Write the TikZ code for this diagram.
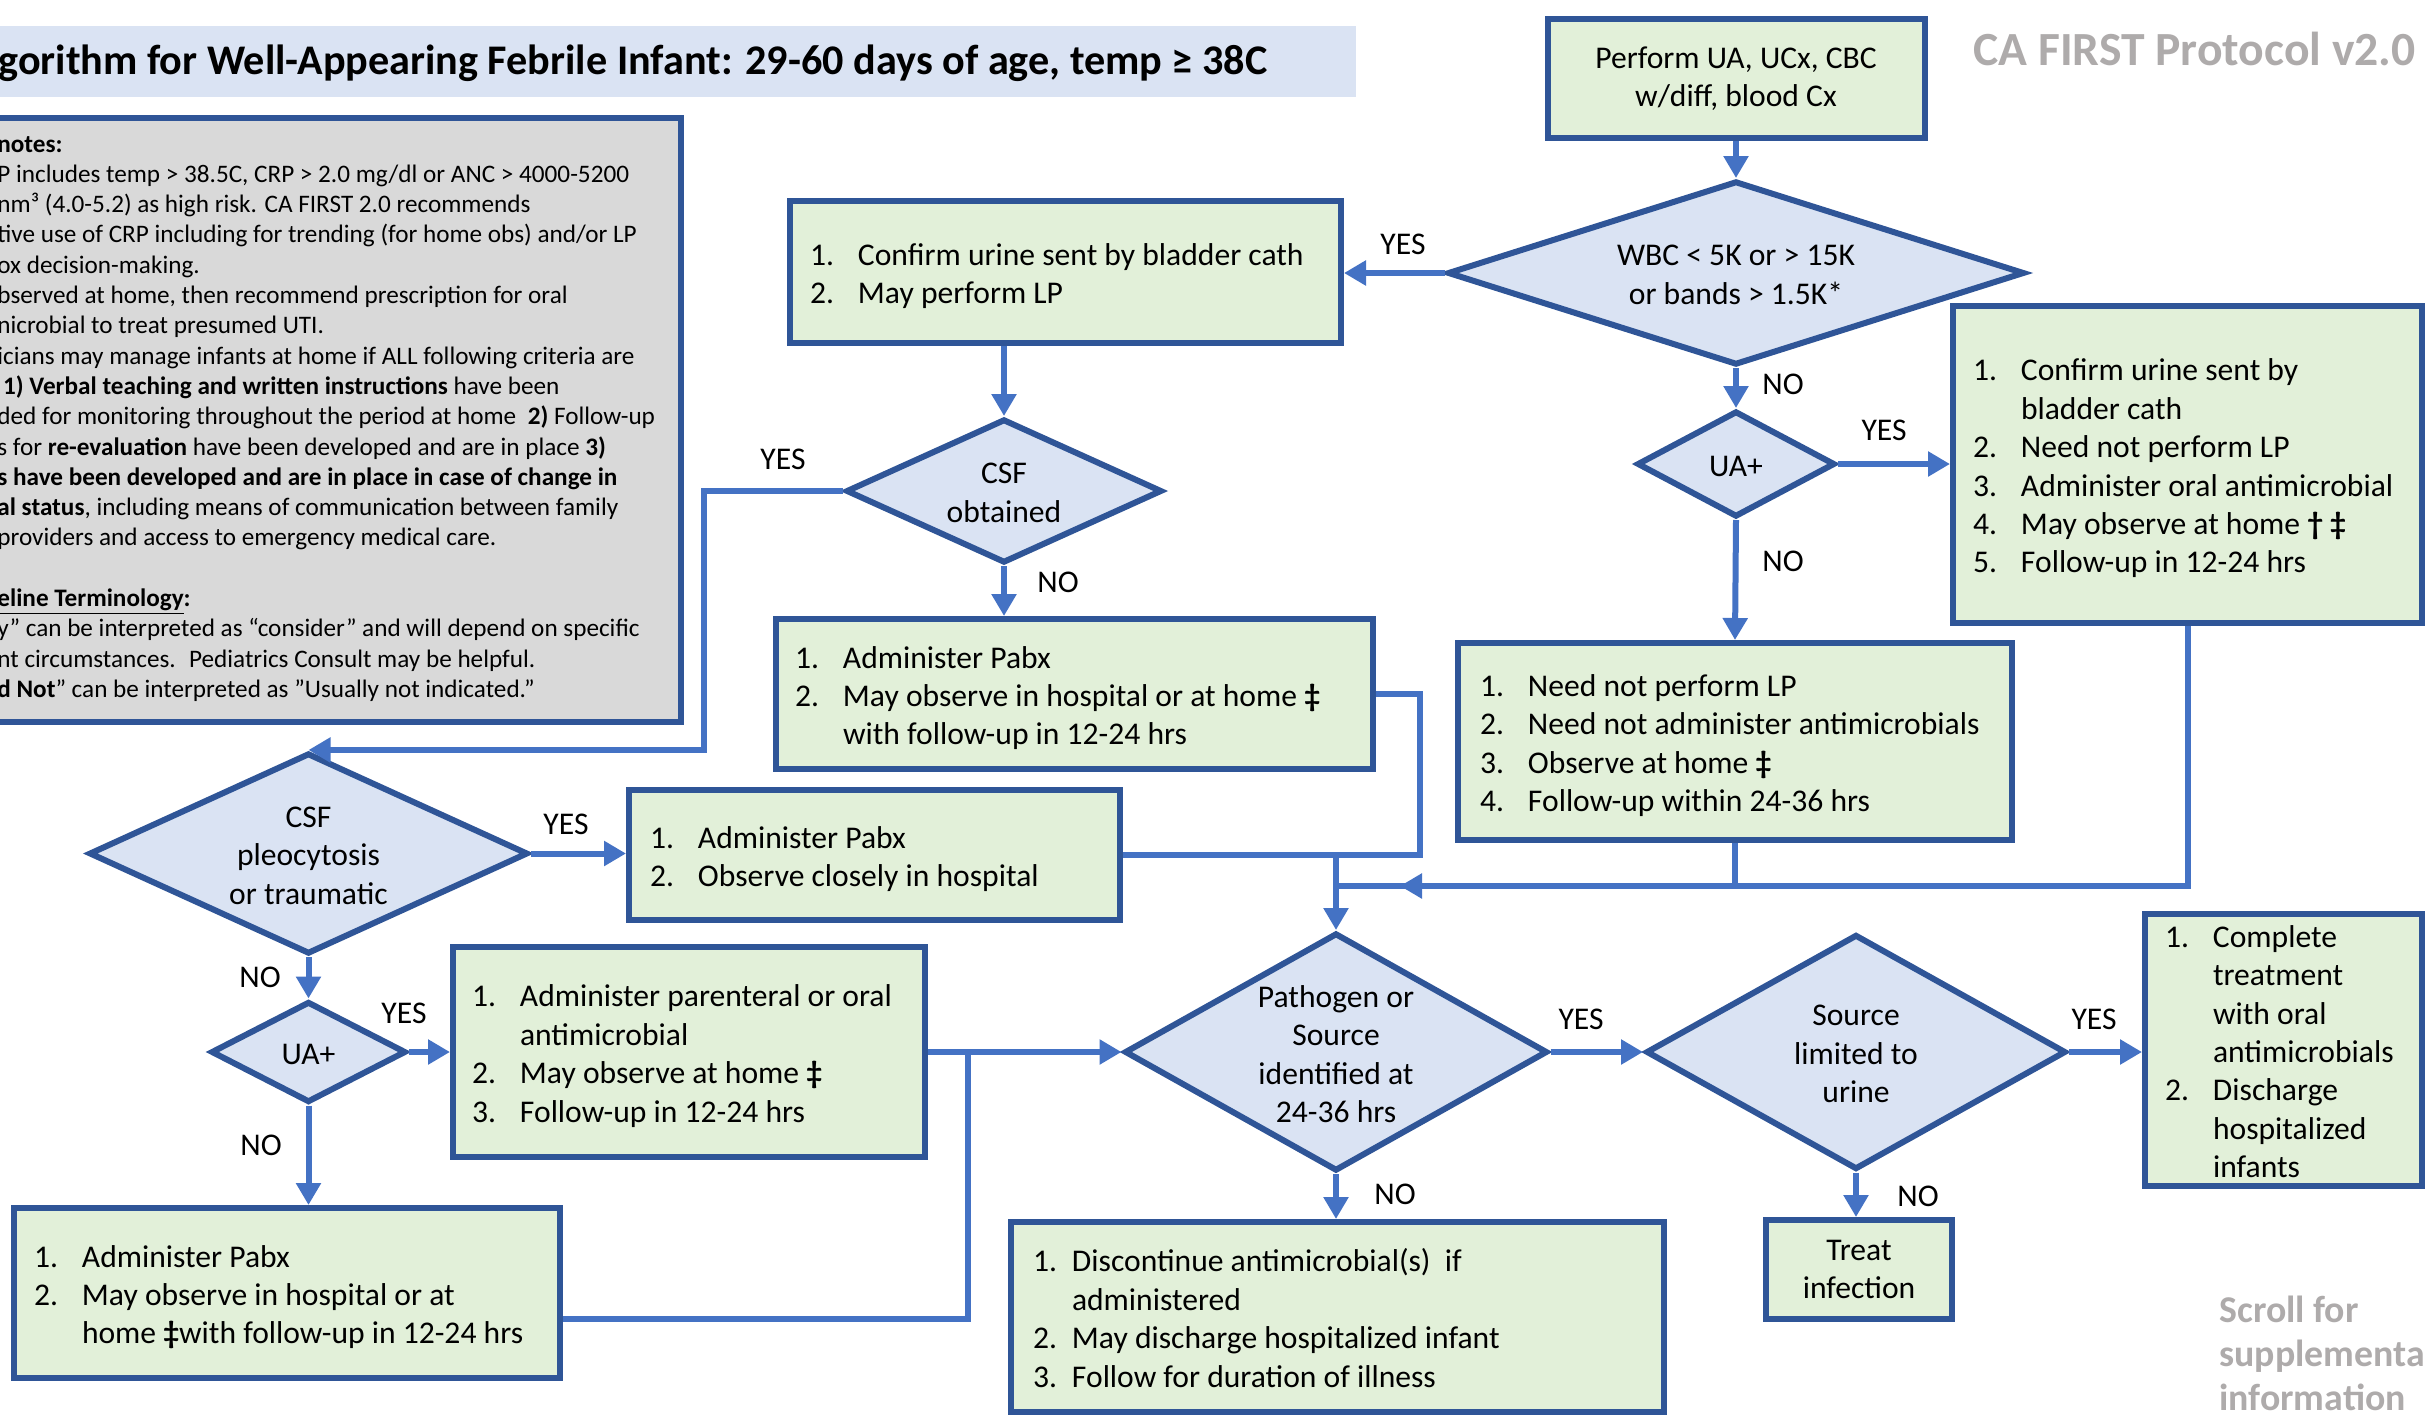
\documentclass[tikz,border=0pt]{standalone}
\usepackage{fontspec}
\setmainfont{Carlito}
\usetikzlibrary{shapes.geometric,arrows.meta}

\definecolor{boxfill}{HTML}{E2F0D9}
\definecolor{diafill}{HTML}{DAE3F3}
\definecolor{edge}{HTML}{2F5597}
\definecolor{linkblue}{HTML}{4472C4}
\definecolor{notefill}{HTML}{D9D9D9}
\definecolor{greytxt}{HTML}{AEABAB}

\newcommand\bodyfont{\fontsize{15.8pt}{19.2pt}\selectfont}
\newcommand\notefont{\fontsize{12.6pt}{15.15pt}\selectfont}
% numbered list: number column, then text column (set slightly low in its box)
\newcommand\steps[2][24pt]{\raisebox{-2.4pt}[\height][\depth]{\begin{tabular}{@{}p{#1}@{}l@{}}#2\end{tabular}}}

\tikzset{
  box/.style={rectangle, draw=edge, fill=boxfill, line width=3pt, inner sep=0pt, font=\bodyfont},
  dia/.style={diamond, draw=edge, fill=diafill, line width=3pt, inner sep=0pt},
  dtext/.style={font=\bodyfont, align=center, yshift=-1pt},
  conn/.style={draw=linkblue, line width=3pt},
  arr/.style={conn, -{Triangle[length=11pt,width=12pt]}},
  tag/.style={font=\bodyfont, inner sep=0pt},
}

\begin{document}
\begin{tikzpicture}[x=0.5pt, y=-0.5pt]
\useasboundingbox (0,0) rectangle (2425,1414);
\clip (0,0) rectangle (2425,1414);

% heading band and headings
\node[fill=diafill, inner sep=0pt, minimum width=678pt, minimum height=35.5pt] (band) at (678,61.5) {};
\node[anchor=west, inner sep=0pt, font=\fontsize{21.1pt}{25pt}\selectfont\bfseries] (title) at (-2,63)
  {gorithm for Well-Appearing Febrile Infant: 29-60 days of age, temp ≥ 38C};
\node[anchor=east, inner sep=0pt, text=greytxt, font=\fontsize{23.8pt}{28pt}\selectfont\bfseries] (brand) at (2416,49)
  {CA FIRST Protocol v2.0};
\node[anchor=west, align=left, inner sep=0pt, text=greytxt, font=\fontsize{18.9pt}{22pt}\selectfont\bfseries] (scroll) at (2219,1353)
  {Scroll for\\supplementa\\information};

% notes panel
\node[draw=edge, fill=notefill, line width=3pt, inner sep=0pt, minimum width=350.5pt, minimum height=302pt] (notes) at (330.5,420) {};
\node[anchor=base west, inner sep=0pt, font=\notefont] (notetext) at (-3,152) {%
\begin{tabular}[t]{@{}l@{}}
\textbf{notes:}\\
P includes temp > 38.5C, CRP > 2.0 mg/dl or ANC > 4000-5200\\
nm³ (4.0-5.2) as high risk. CA FIRST 2.0 recommends\\
tive use of CRP including for trending (for home obs) and/or LP\\
ox decision-making.\\
bserved at home, then recommend prescription for oral\\
nicrobial to treat presumed UTI.\\
icians may manage infants at home if ALL following criteria are\\
\ \textbf{1) Verbal teaching and written instructions} have been\\
ded for monitoring throughout the period at home \ \textbf{2)} Follow-up\\
s for \textbf{re-evaluation} have been developed and are in place \textbf{3)}\\
\textbf{s have been developed and are in place in case of change in}\\
\textbf{al status}, including means of communication between family\\
providers and access to emergency medical care.\\
\\
\textbf{\underline{eline Terminology}:}\\
y” can be interpreted as “consider” and will depend on specific\\
nt circumstances. \ Pediatrics Consult may be helpful.\\
\textbf{d Not}” can be interpreted as ”Usually not indicated.”
\end{tabular}};

% action boxes
\node[box, align=center, minimum width=188.5pt, minimum height=59.5pt] (bA) at (1736,78.5)
  {Perform UA, UCx, CBC\\w/diff, blood Cx};
\node[box, minimum width=275.5pt, minimum height=71pt] (bB) at (1065.5,272)
  {\makebox[255.5pt][l]{\steps{1. & Confirm urine sent by bladder cath\\ 2. & May perform LP}}};
\node[box, minimum width=234.5pt, minimum height=158.5pt] (bC) at (2187.5,464.5)
  {\makebox[214.5pt][l]{\steps{1. & Confirm urine sent by\\ & bladder cath\\ 2. & Need not perform LP\\
   3. & Administer oral antimicrobial\\ 4. & May observe at home \textbf{† ‡}\\ 5. & Follow-up in 12-24 hrs}}};
\node[box, minimum width=277pt, minimum height=98.5pt] (bD) at (1735,741.5)
  {\makebox[255pt][l]{\steps{1. & Need not perform LP\\ 2. & Need not administer antimicrobials\\
   3. & Observe at home \textbf{‡}\\ 4. & Follow-up within 24-36 hrs}}};
\node[box, minimum width=298.5pt, minimum height=75pt] (bE) at (1074.5,694)
  {\makebox[279.5pt][l]{\steps{1. & Administer Pabx\\ 2. & May observe in hospital or at home \textbf{‡}\\
   & with follow-up in 12-24 hrs}}};
\node[box, minimum width=245.5pt, minimum height=65pt] (bF) at (874.5,855)
  {\makebox[224.5pt][l]{\steps{1. & Administer Pabx\\ 2. & Observe closely in hospital}}};
\node[box, minimum width=236pt, minimum height=105pt] (bG) at (689,1052)
  {\makebox[217pt][l]{\steps{1. & Administer parenteral or oral\\ & antimicrobial\\
   2. & May observe at home \textbf{‡}\\ 3. & Follow-up in 12-24 hrs}}};
\node[box, minimum width=273pt, minimum height=85pt] (bH) at (287,1293)
  {\makebox[253pt][l]{\steps{1. & Administer Pabx\\ 2. & May observe in hospital or at\\
   & home \textbf{‡}with follow-up in 12-24 hrs}}};
\node[box, minimum width=326.5pt, minimum height=95pt] (bI) at (1337.5,1317)
  {\makebox[304.5pt][l]{\steps[19.5pt]{1. & Discontinue antimicrobial(s) \ if\\ & administered\\
   2. & May discharge hospitalized infant\\ 3. & Follow for duration of illness}}};
\node[box, minimum width=138.5pt, minimum height=136pt] (bJ) at (2283.5,1050)
  {\makebox[118.5pt][l]{\steps{1. & Complete\\ & treatment\\ & with oral\\ & antimicrobials\\
   2. & Discharge\\ & hospitalized\\ & infants}}};
\node[box, align=center, minimum width=93pt, minimum height=49.5pt] (bK) at (1859,1269.5)
  {Treat\\infection};

% decision diamonds
\node[dia, minimum width=288.5pt, minimum height=92pt,
  label={[dtext]center:{WBC < 5K or > 15K\\or bands > 1.5K*}}] (wbc) at (1736,273) {};
\node[dia, minimum width=99pt, minimum height=53pt,
  label={[dtext]center:UA+}] (ua1) at (1736,464) {};
\node[dia, minimum width=158pt, minimum height=72pt,
  label={[dtext]center:{CSF\\obtained}}] (csfo) at (1004,491) {};
\node[dia, minimum width=219.5pt, minimum height=100.5pt,
  label={[dtext]center:{CSF\\pleocytosis\\or traumatic}}] (pleo) at (308.5,853.5) {};
\node[dia, minimum width=97.5pt, minimum height=50.5pt,
  label={[dtext]center:UA+}] (ua2) at (308.5,1052) {};
\node[dia, minimum width=211.5pt, minimum height=119pt,
  label={[dtext]center:{Pathogen or\\Source\\identified at\\24-36 hrs}}] (path) at (1336,1052) {};
\node[dia, minimum width=210pt, minimum height=117.5pt,
  label={[dtext]center:{Source\\limited to\\urine}}] (src) at (1856,1052) {};

% branch labels
\node[tag] (t1) at (1403,244) {YES};
\node[tag] (t2) at (1783,384) {NO};
\node[tag] (t3) at (1884,430) {YES};
\node[tag] (t4) at (1783,561) {NO};
\node[tag] (t5) at (783,459) {YES};
\node[tag] (t6) at (1058,582) {NO};
\node[tag] (t7) at (566,824) {YES};
\node[tag] (t8) at (260,977) {NO};
\node[tag] (t9) at (404,1013) {YES};
\node[tag] (t10) at (261,1145) {NO};
\node[tag] (t11) at (1581,1019) {YES};
\node[tag] (t12) at (1395,1194) {NO};
\node[tag] (t13) at (2094,1019) {YES};
\node[tag] (t14) at (1918,1196) {NO};

% junction points
\coordinate (jx) at (704,0);
\coordinate (m1) at (1336,855);
\coordinate (m2) at (1420,855);
\coordinate (m3) at (1336,886);
\coordinate (tipR) at (1400,886);
\coordinate (m4) at (968,1052);

% connectors
\draw[arr] (bA.south) -- (wbc.north);
\draw[arr] (wbc.west) -- (wbc.west -| bB.east);
\draw[arr] (wbc.south) -- (ua1.north);
\draw[arr] (ua1.east) -- (ua1.east -| bC.west);
\draw[arr] (ua1.south) -- (bD.north);
\draw[arr] (csfo.north |- bB.south) -- (csfo.north);
\draw[arr] (csfo.south) -- (csfo.south |- bE.north);
\draw[arr] (csfo.west) -| (pleo.north -| jx) -- (pleo.north);
\draw[conn] (bE.east) -| (m2) -- (m1);
\draw[conn] (bF.east) -- (m1);
\draw[arr] (m1) -- (path.north);
\draw[conn] (bC.south) |- (m3);
\draw[conn] (bD.south) -- (bD.south |- m3);
\draw[arr] (tipR -| bD.south) -- (tipR);
\draw[arr] (pleo.east) -- (pleo.east -| bF.west);
\draw[arr] (pleo.south) -- (ua2.north);
\draw[arr] (ua2.east) -- (ua2.east -| bG.west);
\draw[arr] (ua2.south) -- (ua2.south |- bH.north);
\draw[arr] (bG.east) -- (path.west);
\draw[conn] ([yshift=-13pt]bH.east) -| (m4);
\draw[arr] (path.east) -- (src.west);
\draw[arr] (path.south) -- (path.south |- bI.north);
\draw[arr] (src.east) -- (src.east -| bJ.west);
\draw[arr] (src.south) -- (src.south |- bK.north);
\end{tikzpicture}
\end{document}
